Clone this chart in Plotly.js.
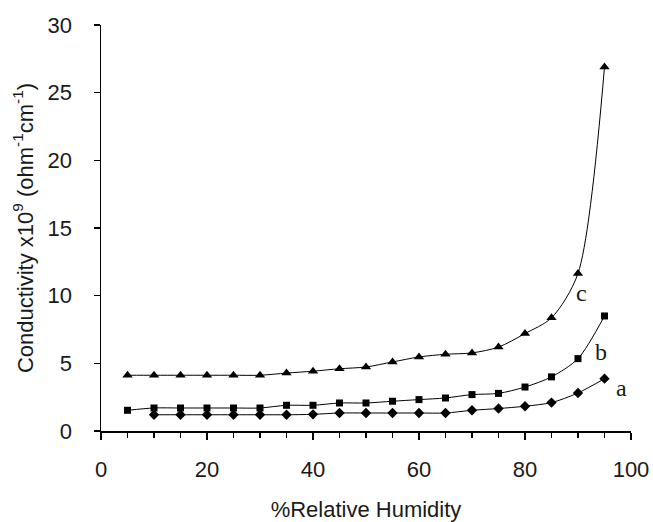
<!DOCTYPE html>
<html>
<head>
<meta charset="utf-8">
<script src="https://cdn.plot.ly/plotly-3.0.1.min.js"></script>
<style>html,body{margin:0;padding:0;background:#fff}#chart{width:653px;height:522px}</style>
</head>
<body>
<div id="chart"></div>
<script>
const humidityA = [10,15,20,25,30,35,40,45,50,55,60,65,70,75,80,85,90,95];
const seriesA = [1.2,1.2,1.2,1.2,1.2,1.2,1.23,1.33,1.33,1.33,1.33,1.33,1.53,1.66,1.83,2.1,2.81,3.87];
const humidityB = [5,10,15,20,25,30,35,40,45,50,55,60,65,70,75,80,85,90,95];
const seriesB = [1.53,1.7,1.7,1.7,1.7,1.7,1.9,1.9,2.07,2.07,2.2,2.32,2.44,2.69,2.78,3.25,4.0,5.35,8.5];
const humidityC = [5,10,15,20,25,30,35,40,45,50,55,60,65,70,75,80,85,90,95];
const seriesC = [4.12,4.12,4.12,4.12,4.12,4.12,4.28,4.42,4.6,4.73,5.1,5.47,5.67,5.77,6.2,7.2,8.36,11.64,26.9];
const curveLabels = ['a','b','c'];
const labelX = [98.3, 94.4, 90.6];
const labelY = [3.16, 5.84, 10.18];

const lineStyle = {color:'#000', width:1, shape:'spline', smoothing:0.8};
const traces = [
  {x:humidityA, y:seriesA, mode:'lines+markers', line:lineStyle, marker:{symbol:'diamond', size:8, color:'#000'}},
  {x:humidityB, y:seriesB, mode:'lines+markers', line:lineStyle, marker:{symbol:'square', size:7, color:'#000'}},
  {x:humidityC, y:seriesC, mode:'lines+markers', line:lineStyle, marker:{symbol:'triangle-up', size:9, color:'#000'}}
];
const annotations = curveLabels.map((t,i)=>({x:labelX[i], y:labelY[i], xref:'x', yref:'y', text:t, showarrow:false,
  font:{family:'Liberation Serif, serif', size:24, color:'#1a1a1a'}}));

const layout = {
  width:653, height:522,
  margin:{l:101, r:22, t:25, b:91},
  paper_bgcolor:'#fff', plot_bgcolor:'#fff',
  showlegend:false,
  font:{family:'Liberation Sans, Arial, sans-serif', size:22, color:'#1a1a1a'},
  xaxis:{range:[0,100], dtick:20, tick0:0, ticks:'outside', ticklen:7, tickwidth:1.5, tickcolor:'#000',
    showline:true, linecolor:'#000', linewidth:1.5, showgrid:false, zeroline:false,
    minor:{dtick:5, ticks:'outside', ticklen:5, tickwidth:1.5, tickcolor:'#000', showgrid:false},
    ticklabelstandoff:11,
    title:{text:'%Relative Humidity', font:{size:22, color:'#1a1a1a'}, standoff:26}},
  yaxis:{range:[0,30], dtick:5, tick0:0, ticks:'outside', ticklen:6, tickwidth:1.5, tickcolor:'#000',
    showline:true, linecolor:'#000', linewidth:1.5, showgrid:false, zeroline:false,
    ticklabelstandoff:17,
    title:{text:'Conductivity x10<sup>9</sup> (ohm<sup>-1</sup>cm<sup>-1</sup>)', font:{size:22, color:'#1a1a1a'}, standoff:8}},
  annotations:annotations
};
Plotly.newPlot('chart', traces, layout, {displayModeBar:false, staticPlot:true});
</script>
</body>
</html>
